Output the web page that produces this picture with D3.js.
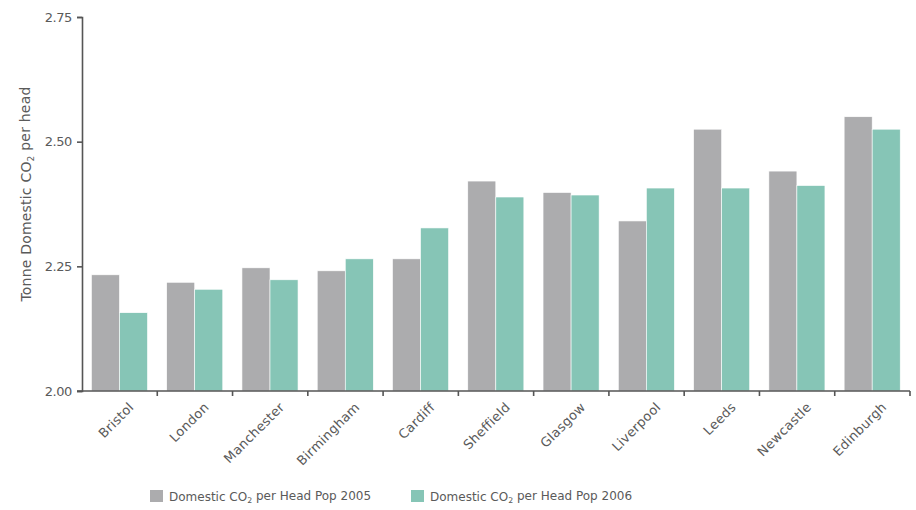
<!DOCTYPE html>
<html>
<head>
<meta charset="utf-8">
<script src="https://cdn.jsdelivr.net/npm/d3@7"></script>
<style>
  body { margin: 0; background: #fff; }
  svg text { font-family: "DejaVu Sans", sans-serif; fill: #5a5a5a; }
</style>
</head>
<body>
<svg id="chart" width="916" height="510"></svg>
<script>
const cities = ['Bristol', 'London', 'Manchester', 'Birmingham', 'Cardiff', 'Sheffield',
    'Glasgow', 'Liverpool', 'Leeds', 'Newcastle', 'Edinburgh']
const pop2005 = [2.233, 2.218, 2.247, 2.241, 2.265, 2.421, 2.398, 2.341, 2.525, 2.441, 2.550]
const pop2006 = [2.157, 2.204, 2.223, 2.265, 2.327, 2.389, 2.393, 2.407, 2.407, 2.412, 2.525]
const yTicks = [2.00, 2.25, 2.50, 2.75]
const seriesNames = ['Domestic CO|2| per Head Pop 2005', 'Domestic CO|2| per Head Pop 2006']
const colors = ['#acacae', '#86c5b6']

const margin = { left: 82, right: 6, top: 17, bottom: 119 }
const width = 916 - margin.left - margin.right
const height = 510 - margin.top - margin.bottom

const svg = d3.select('#chart')
const g = svg.append('g').attr('transform', `translate(${margin.left},${margin.top})`)

const x0 = d3.scaleBand().domain(cities).range([0, width]).padding(0)
const x1 = d3.scaleBand().domain([0, 1])
    .range([x0.bandwidth() * 0.125, x0.bandwidth() * 0.87]).padding(0)
const y = d3.scaleLinear().domain([2, 2.75]).range([height, 0])

const rows = cities.map((c, i) => ({ city: c, values: [pop2005[i], pop2006[i]] }))

const groups = g.selectAll('.grp')
    .data(rows)
    .enter()
    .append('g')
    .attr('class', 'grp')
    .attr('transform', d => `translate(${x0(d.city)},0)`)

groups.selectAll('rect')
    .data(d => d.values.map((v, k) => ({ k, v })))
    .enter()
    .append('rect')
    .attr('x', d => x1(d.k))
    .attr('width', x1.bandwidth())
    .attr('y', d => y(d.v))
    .attr('height', d => height - y(d.v))
    .attr('fill', d => colors[d.k])
    .attr('stroke', '#fff')
    .attr('stroke-width', 0.6)

// y axis
const yAxis = g.append('g')
    .call(d3.axisLeft(y).tickValues(yTicks).tickFormat(d3.format('.2f')).tickSizeOuter(0).tickSize(5))
yAxis.select('.domain').attr('stroke', '#555').attr('stroke-width', 1.6)
yAxis.selectAll('.tick line').attr('stroke', '#555').attr('stroke-width', 1.6)
yAxis.selectAll('.tick text')
    .attr('font-size', 13).attr('x', -10)
    .style('font-family', '"DejaVu Sans", sans-serif').style('fill', '#5a5a5a')
    .style('letter-spacing', '-0.4px')

// x axis: ticks at category boundaries
const xAxis = g.append('g').attr('transform', `translate(0,${height})`)
xAxis.append('line')
    .attr('x1', -5).attr('x2', width)
    .attr('stroke', '#555').attr('stroke-width', 1.6)
xAxis.selectAll('.xtick')
    .data(cities.slice(1).concat(['__end']))
    .enter()
    .append('line')
    .attr('x1', (d, i) => x0.step() * (i + 1))
    .attr('x2', (d, i) => x0.step() * (i + 1))
    .attr('y1', 0).attr('y2', 5)
    .attr('stroke', '#555').attr('stroke-width', 1.6)

xAxis.selectAll('.xlab')
    .data(cities)
    .enter()
    .append('text')
    .attr('class', 'xlab')
    .attr('transform', d => `translate(${x0(d) + x0.bandwidth() / 2 + 15},17) rotate(-45)`)
    .attr('text-anchor', 'end')
    .attr('font-size', 13)
    .style('letter-spacing', '0.3px')
    .text(d => d)

// subscript text helper
function subText(sel, str) {
    const parts = str.split('|')
    sel.append('tspan').text(parts[0])
    sel.append('tspan').text(parts[1]).attr('font-size', '0.65em').attr('dy', '0.3em')
    sel.append('tspan').text(parts[2]).attr('dy', '-0.3em')
}

const ylab = svg.append('text')
    .attr('transform', 'translate(31,194) rotate(-90)')
    .attr('text-anchor', 'middle')
    .attr('font-size', 14)
    .style('letter-spacing', '0.2px')
subText(ylab, 'Tonne Domestic CO|2| per head')

// legend
const legendX = [150, 411]
const legend = svg.selectAll('.leg')
    .data(seriesNames)
    .enter()
    .append('g')
    .attr('class', 'leg')
    .attr('transform', (d, i) => `translate(${legendX[i]},490)`)
legend.append('rect')
    .attr('width', 13).attr('height', 12)
    .attr('fill', (d, i) => colors[i])
legend.append('text')
    .attr('x', 19).attr('y', 11)
    .attr('font-size', 12)
    .each(function (d) { subText(d3.select(this), d) })
</script>
</body>
</html>
